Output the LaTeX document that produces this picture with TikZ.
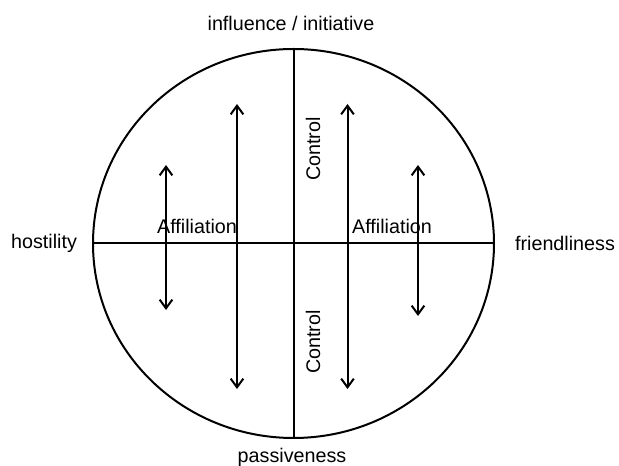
\documentclass[tikz,border=0pt]{standalone}
\usepackage{fontspec}
\setmainfont{Liberation Sans}
\usetikzlibrary{arrows.meta,shapes.geometric}

\begin{document}
\begin{tikzpicture}[x=0.75pt,y=0.75pt,yscale=-1,xscale=1,
  lbl/.style={font=\fontsize{14.8}{17}\selectfont, inner sep=0pt},
  both/.style={{Straight Barb[length=6.5pt,width=9.5pt]}-{Straight Barb[length=6.5pt,width=9.5pt]}, line width=1.5pt}]
\useasboundingbox (0,0) rectangle (619,466);

%Shape: Ellipse [id:circ]
\node [draw, ellipse, line width=1.5pt, inner sep=0pt, minimum width=300.75pt, minimum height=291.75pt] (circ) at (293.5,243.5) {};

%Straight Lines [id:vaxis]
\draw [line width=1.5pt] (circ.north) -- (circ.south) ;
%Straight Lines [id:haxis]
\draw [line width=1.5pt] (circ.west) -- (circ.east) ;

% Arrow end points
\coordinate (a1t) at (166,165);
\coordinate (a1b) at (166,310);
\coordinate (a2t) at (237,104);
\coordinate (a2b) at (237,389);
\coordinate (a3t) at (347.5,104);
\coordinate (a3b) at (347.5,389);
\coordinate (a4t) at (418,165);
\coordinate (a4b) at (418,316);

%Straight Lines [id:arr1]
\draw [both] (a1t) -- (a1b) ;
%Straight Lines [id:arr2]
\draw [both] (a2t) -- (a2b) ;
%Straight Lines [id:arr3]
\draw [both] (a3t) -- (a3b) ;
%Straight Lines [id:arr4]
\draw [both] (a4t) -- (a4b) ;

% Text Node
\node [lbl] (infl) at (291,23) {influence / initiative};
% Text Node
\node [lbl] (pass) at (292,457) {passiveness};
% Text Node
\node [lbl] (host) at (44,243) {hostility};
% Text Node
\node [lbl] (friend) at (565,243) {friendliness};
% Text Node
\node [lbl] (affl) at (197,226) {Affiliation};
% Text Node
\node [lbl] (affr) at (392,226) {Affiliation};
% Text Node
\node [lbl, rotate=90] (ctrlt) at (313,149) {Control};
% Text Node
\node [lbl, rotate=90] (ctrlb) at (313,342) {Control};

\end{tikzpicture}
\end{document}
